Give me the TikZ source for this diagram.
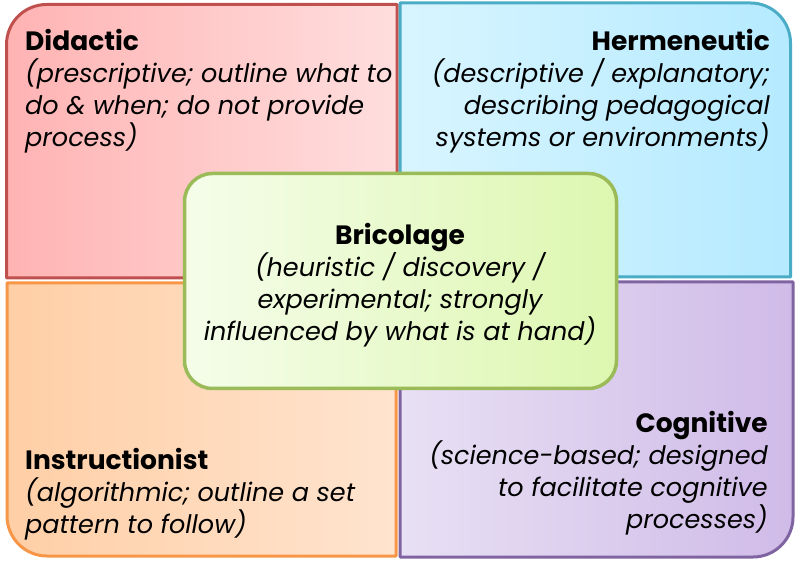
\documentclass[tikz,border=0pt]{standalone}
\usepackage{fontspec}
\setmainfont{Poppins}
\usepackage{tikz}
\usetikzlibrary{positioning}
\definecolor{didline}{HTML}{C0504D}
\definecolor{didleft}{HTML}{FFB3B3}
\definecolor{didright}{HTML}{FFDEDE}
\definecolor{herline}{HTML}{4BACC6}
\definecolor{herleft}{HTML}{D8F5FF}
\definecolor{herright}{HTML}{B5EAFF}
\definecolor{insline}{HTML}{F79646}
\definecolor{insleft}{HTML}{FFCFA6}
\definecolor{insright}{HTML}{FFE4CF}
\definecolor{cogline}{HTML}{8064A2}
\definecolor{cogleft}{HTML}{E8E0F4}
\definecolor{cogright}{HTML}{D0BBE8}
\definecolor{briline}{HTML}{9BBB59}
\definecolor{brileft}{HTML}{F5FDEA}
\definecolor{briright}{HTML}{DDF7B0}
\newcommand\qtitle[1]{{\fontsize{26.5}{32}\selectfont\bfseries #1}}
\newcommand\qbody[1]{{\itshape #1}}

\begin{document}
\begin{tikzpicture}[x=1pt,y=1pt,join=round,
    quad/.style={line width=3pt},
    txt/.style={inner sep=0pt,font=\fontsize{25.5}{32}\selectfont}]
  \useasboundingbox (0,0) rectangle (800,565);
  % four quadrants
  \shadedraw[quad,draw=didline,left color=didleft,right color=didright]
    (397,287)--(6.5,287)--(6.5,520.5) arc[start angle=180,end angle=90,radius=40]--(397,560.5)--cycle;
  \shadedraw[quad,draw=herline,left color=herleft,right color=herright]
    (400,288)--(400,562)--(750.5,562) arc[start angle=90,end angle=0,radius=40]--(790.5,288)--cycle;
  \shadedraw[quad,draw=insline,left color=insleft,right color=insright]
    (396,282)--(7,282)--(7,49) arc[start angle=180,end angle=270,radius=40]--(396,9)--cycle;
  \shadedraw[quad,draw=cogline,left color=cogleft,right color=cogright]
    (400,283)--(793,283)--(793,48) arc[start angle=0,end angle=-90,radius=40]--(400,8)--cycle;
  % centre box
  \node[draw=briline,line width=3.5pt,rounded corners=28pt,left color=brileft,right color=briright,
        minimum width=432,minimum height=215] (bricbox) at (400.5,284) {};
  % texts
  \node[txt,anchor=north west,align=left] (didactic) at (25,536)
    {\qtitle{Didactic}\\\qbody{(prescriptive; outline what to}\\\qbody{do \& when; do not provide}\\\qbody{process)}};
  \node[txt,anchor=north east,align=right] (hermeneutic) at (770,536)
    {\qtitle{Hermeneutic}\\\qbody{(descriptive / explanatory;}\\\qbody{describing pedagogical}\\\qbody{systems or environments)}};
  \node[txt,anchor=north,align=center] (bricolage) at (400,342)
    {\qtitle{Bricolage}\\\qbody{(heuristic / discovery /}\\\qbody{experimental; strongly}\\\qbody{influenced by what is at hand)}};
  \node[txt,anchor=north west,align=left] (instructionist) at (25,117)
    {\qtitle{Instructionist}\\\qbody{(algorithmic; outline a set}\\\qbody{pattern to follow)}};
  \node[txt,anchor=north east,align=right] (cognitive) at (768,154)
    {\qtitle{Cognitive}\\\qbody{(science-based; designed}\\\qbody{to facilitate cognitive}\\\qbody{processes)}};
\end{tikzpicture}
\end{document}
